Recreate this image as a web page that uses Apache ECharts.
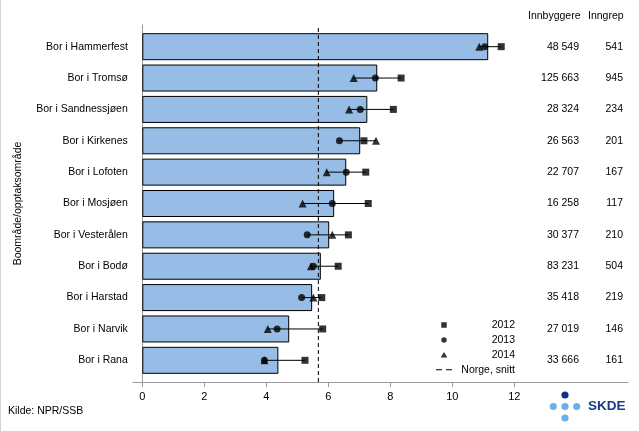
<!DOCTYPE html>
<html>
<head>
<meta charset="utf-8">
<script src="https://cdn.jsdelivr.net/npm/echarts@6/dist/echarts.min.js"></script>
<style>
  html, body { margin: 0; padding: 0; background: #fff; }
  #wrap { position: relative; width: 640px; height: 432px; box-sizing: border-box; border-left: 1px solid #d4d4d4; border-right: 1px solid #d4d4d4; border-bottom: 1px solid #d4d4d4; }
  #chart { position: absolute; left: -1px; top: 0; width: 640px; height: 432px; }
</style>
</head>
<body>
<div id="wrap"><div id="chart"></div></div>
<script>
const categories = ['Bor i Hammerfest','Bor i Tromsø','Bor i Sandnessjøen','Bor i Kirkenes','Bor i Lofoten','Bor i Mosjøen','Bor i Vesterålen','Bor i Bodø','Bor i Harstad','Bor i Narvik','Bor i Rana'];
const rateAvg  = [11.16, 7.58, 7.26, 7.03, 6.58, 6.19, 6.03, 5.76, 5.48, 4.74, 4.39];
const rate2012 = [11.58, 8.35, 8.10, 7.15, 7.21, 7.29, 6.65, 6.32, 5.79, 5.82, 5.25];
const rate2013 = [11.05, 7.52, 7.03, 6.36, 6.58, 6.13, 5.32, 5.52, 5.14, 4.35, 3.94];
const rate2014 = [10.87, 6.82, 6.67, 7.54, 5.95, 5.17, 6.13, 5.44, 5.52, 4.05, 3.94];
const innbyggere = ['48 549','125 663','28 324','26 563','22 707','16 258','30 377','83 231','35 418','27 019','33 666'];
const inngrep = ['541','945','234','201','167','117','210','504','219','146','161'];
const norgeSnitt = 5.68;
const xTicks = [0, 2, 4, 6, 8, 10, 12];
const yearNames = ['2012', '2013', '2014'];
const avgName = 'Norge, snitt';

const FONT = 'Liberation Sans, Arial, sans-serif';
const X_MIN = -0.3, X_MAX = 15.67;

const chart = echarts.init(document.getElementById('chart'), null, { renderer: 'canvas' });

const rangeData = categories.map((c, i) => {
  const vals = [rate2012[i], rate2013[i], rate2014[i]];
  return [i, Math.min(...vals), Math.max(...vals)];
});
const pts = arr => arr.map((v, i) => [v, i]);

const ICON_SQUARE = 'path://M0,0h10v10h-10z';
const ICON_CIRCLE = 'path://M5,0a5,5 0 1,0 0.001,0z';
const ICON_TRI = 'path://M6,0L12,10L0,10z';
const ICON_DASH = 'path://M0,0h6v1h-6zM10,0h6v1h-6z';

const option = {
  animation: false,
  textStyle: { fontFamily: FONT },
  grid: [
    { left: 133, right: 12, top: 31, bottom: 56, outerBoundsMode: 'none' },
    { left: 133, right: 12, top: 25, bottom: 50, outerBoundsMode: 'none' }
  ],
  xAxis: [
    { gridIndex: 0, type: 'value', min: X_MIN, max: X_MAX, show: false },
    { gridIndex: 1, type: 'value', min: X_MIN, max: X_MAX,
      axisLine: { show: true, onZero: false, lineStyle: { color: '#9a9a9a', width: 1 } },
      axisTick: { show: true, length: 5, customValues: xTicks, lineStyle: { color: '#9a9a9a' } },
      axisLabel: { customValues: xTicks, margin: 9, color: '#000', fontSize: 11, fontFamily: FONT },
      splitLine: { show: false } }
  ],
  yAxis: [
    { gridIndex: 0, type: 'category', inverse: true, data: categories,
      axisLine: { show: false, onZero: false }, axisTick: { show: false },
      axisLabel: { color: '#000', fontSize: 10.5, fontFamily: FONT, margin: 5.2 },
      name: 'Boområde/opptaksområde', nameLocation: 'middle', nameRotate: 90, nameGap: 109,
      nameMoveOverlap: false,
      nameTextStyle: { color: '#000', fontSize: 10.5, fontFamily: FONT } },
    { gridIndex: 0, type: 'category', inverse: true, data: innbyggere, position: 'right',
      axisLine: { show: false, onZero: false }, axisTick: { show: false },
      axisLabel: { inside: true, margin: 49, color: '#000', fontSize: 10.5, fontFamily: FONT } },
    { gridIndex: 0, type: 'category', inverse: true, data: inngrep, position: 'right',
      axisLine: { show: false, onZero: false }, axisTick: { show: false },
      axisLabel: { inside: true, margin: 5, color: '#000', fontSize: 10.5, fontFamily: FONT } },
    { gridIndex: 1, type: 'value', min: 0, max: 1,
      axisLine: { show: true, lineStyle: { color: '#9a9a9a', width: 1 } },
      axisTick: { show: false }, axisLabel: { show: false }, splitLine: { show: false } }
  ],
  legend: {
    orient: 'vertical', left: 431, top: 314.5, itemWidth: 16, itemHeight: 5.5, itemGap: 3.9,
    symbolKeepAspect: true,
    data: [
      { name: yearNames[0], icon: ICON_SQUARE },
      { name: yearNames[1], icon: ICON_CIRCLE },
      { name: yearNames[2], icon: ICON_TRI },
      { name: avgName, icon: ICON_DASH }
    ],
    formatter: n => '{a|' + n + '}',
    textStyle: { color: '#000', fontSize: 10.5, fontFamily: FONT,
      rich: { a: { width: 58, align: 'right', fontSize: 10.5, fontFamily: FONT, color: '#000' } } }
  },
  graphic: [
    { type: 'text', left: 528, top: 11, style: { text: 'Innbyggere', fill: '#000', font: '10.5px ' + FONT } },
    { type: 'text', left: 588, top: 11, style: { text: 'Inngrep', fill: '#000', font: '10.5px ' + FONT } },
    { type: 'text', left: 8, top: 406, style: { text: 'Kilde: NPR/SSB', fill: '#000', font: '10.5px ' + FONT } },
    { type: 'circle', shape: { cx: 565, cy: 395, r: 3.6 }, style: { fill: '#0f2f8c' } },
    { type: 'circle', shape: { cx: 553.3, cy: 406.5, r: 3.6 }, style: { fill: '#6cb0ea' } },
    { type: 'circle', shape: { cx: 565, cy: 406.5, r: 3.6 }, style: { fill: '#6cb0ea' } },
    { type: 'circle', shape: { cx: 576.7, cy: 406.5, r: 3.6 }, style: { fill: '#6cb0ea' } },
    { type: 'circle', shape: { cx: 565, cy: 418, r: 3.6 }, style: { fill: '#6cb0ea' } },
    { type: 'text', left: 588, top: 399, style: { text: 'SKDE', fill: '#173a8e', font: 'bold 13.5px ' + FONT } }
  ],
  series: [
    { type: 'bar', xAxisIndex: 0, yAxisIndex: 0, data: rateAvg, barWidth: 27, silent: true,
      itemStyle: { color: '#97bde6', borderColor: '#000', borderWidth: 1 }, z: 2 },
    { type: 'line', name: avgName, xAxisIndex: 1, yAxisIndex: 3, data: [[norgeSnitt, 0], [norgeSnitt, 1]],
      symbol: 'none', showSymbol: false, lineStyle: { color: '#000', width: 1, type: [4, 3] }, itemStyle: { color: '#000' }, z: 3 },
    { type: 'custom', xAxisIndex: 0, yAxisIndex: 0, data: rangeData, encode: { x: [1, 2], y: 0 }, z: 4,
      renderItem: (params, api) => {
        const a = api.coord([api.value(1), api.value(0)]);
        const b = api.coord([api.value(2), api.value(0)]);
        return { type: 'line', shape: { x1: a[0], y1: a[1], x2: b[0], y2: b[1] }, style: { stroke: '#000', lineWidth: 1 } };
      } },
    { type: 'scatter', name: yearNames[2], xAxisIndex: 0, yAxisIndex: 0, data: pts(rate2014),
      symbol: 'triangle', symbolSize: 8, itemStyle: { color: '#000' }, z: 5 },
    { type: 'scatter', name: yearNames[0], xAxisIndex: 0, yAxisIndex: 0, data: pts(rate2012),
      symbol: 'rect', symbolSize: 7, itemStyle: { color: '#000' }, z: 5 },
    { type: 'scatter', name: yearNames[1], xAxisIndex: 0, yAxisIndex: 0, data: pts(rate2013),
      symbol: 'circle', symbolSize: 7, itemStyle: { color: '#000' }, z: 6 }
  ]
};
chart.setOption(option);
</script>
</body>
</html>
